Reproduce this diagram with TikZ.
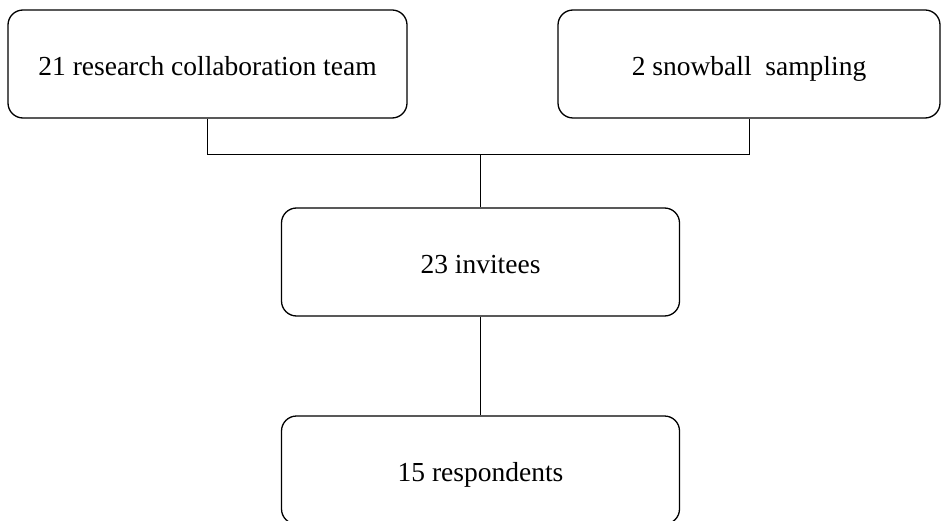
\documentclass[tikz,border=0pt]{standalone}
\usepackage{fontspec}
\setmainfont{Liberation Serif}
\usetikzlibrary{positioning}

\begin{document}
\begin{tikzpicture}[x=1pt, y=-1pt,
		box/.style={draw, line width=1.3pt, rounded corners=15pt, minimum height=108pt, inner sep=0pt,
			text height=25pt, text depth=2pt, font=\fontsize{27.5}{33}\selectfont},
		link/.style={line width=0.9pt}]
		\useasboundingbox (0,0) rectangle (941,521);
		%\draw [thin, help lines] (0,0) grid[step=50] (941,521);
		\node[box, minimum width=399pt] (team) at (207.5,64) {21 research collaboration team};
		\node[box, minimum width=382pt] (snow) at (749,64) {2 snowball~~sampling};
		\node[box, minimum width=398pt] (invitees) at (480.5,262) {23 invitees};
		\node[box, minimum width=398pt] (resp) at (480.5,470) {15 respondents};
		\coordinate (join) at (480.5,154.5);
		\draw[link] (team.south) |- (join) -| (snow.south);
		\draw[link] (join) -- (invitees.north);
		\draw[link] (invitees.south) -- (resp.north);
	\end{tikzpicture}
\end{document}
